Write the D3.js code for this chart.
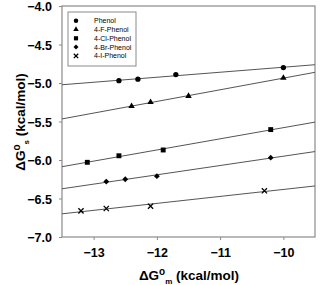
<!DOCTYPE html>
<html>
<head>
<meta charset="utf-8">
<script src="https://cdn.jsdelivr.net/npm/d3@7"></script>
<style>
body { margin: 0; background: #fff; }
text { font-family: "Liberation Sans", Arial, sans-serif; }
</style>
</head>
<body>
<svg id="chart" width="321" height="285"></svg>
<script>
// data
var seriesNames = ["Phenol", "4-F-Phenol", "4-Cl-Phenol", "4-Br-Phenol", "4-I-Phenol"];
var phenolX = [-12.6, -12.3, -11.7, -10.0];
var phenolY = [-4.97, -4.95, -4.89, -4.80];
var fluoroX = [-12.4, -12.1, -11.5, -10.0];
var fluoroY = [-5.30, -5.25, -5.17, -4.935];
var chloroX = [-13.1, -12.6, -11.9, -10.2];
var chloroY = [-6.03, -5.945, -5.87, -5.605];
var bromoX = [-12.8, -12.5, -12.0, -10.2];
var bromoY = [-6.28, -6.25, -6.21, -5.97];
var iodoX = [-13.2, -12.8, -12.1, -10.3];
var iodoY = [-6.66, -6.63, -6.60, -6.40];
var xTicks = [-13, -12, -11, -10];
var yTicks = [-4.0, -4.5, -5.0, -5.5, -6.0, -6.5, -7.0];

var allX = [phenolX, fluoroX, chloroX, bromoX, iodoX];
var allY = [phenolY, fluoroY, chloroY, bromoY, iodoY];
var markers = ["circle", "triangle", "square", "diamond", "cross"];

var svg = d3.select("#chart"),
	margin = {top: 6, right: 6, bottom: 48, left: 62},
	width = +svg.attr("width") - margin.left - margin.right,
	height = +svg.attr("height") - margin.top - margin.bottom;

var x = d3.scaleLinear().domain([-13.5, -9.5]).range([0, width]),
	y = d3.scaleLinear().domain([-7, -4]).range([height, 0]);

var g = svg.append("g")
	.attr("transform", "translate(" + margin.left + "," + margin.top + ")");

var frameColor = "#8a8a8a";

// frame
g.append("rect")
	.attr("x", 0).attr("y", 0)
	.attr("width", width).attr("height", height)
	.attr("fill", "none")
	.attr("stroke", frameColor)
	.attr("stroke-width", 1.2);

var xAxis = g.append("g")
	.attr("transform", "translate(0," + height + ")")
	.call(d3.axisBottom(x).tickValues(xTicks).tickSize(3).tickPadding(8).tickFormat(d3.format("d")));

var yAxis = g.append("g")
	.call(d3.axisLeft(y).tickValues(yTicks).tickSize(3).tickPadding(7).tickFormat(d3.format(".1f")));

[xAxis, yAxis].forEach(function(ax) {
	ax.select(".domain").remove();
	ax.selectAll(".tick line").attr("stroke", frameColor);
	ax.selectAll(".tick text")
		.attr("fill", "#000")
		.style("font-size", "12.5px")
		.style("font-weight", "bold")
		.style("font-family", "'Liberation Sans', Arial, sans-serif");
});
yAxis.selectAll(".tick text").attr("dy", "0.36em");

// least squares line per series, across the whole x range
function fit(xs, ys) {
	var mx = d3.mean(xs), my = d3.mean(ys);
	var sxy = 0, sxx = 0;
	for (var i = 0; i < xs.length; i++) {
		sxy += (xs[i] - mx) * (ys[i] - my);
		sxx += (xs[i] - mx) * (xs[i] - mx);
	}
	var b = sxy / sxx;
	return function(v) { return my + b * (v - mx); };
}

var line = d3.line()
	.x(function(d) { return x(d[0]); })
	.y(function(d) { return y(d[1]); });

for (var s = 0; s < allX.length; s++) {
	var f = fit(allX[s], allY[s]);
	var ends = x.domain().map(function(v) { return [v, f(v)]; });
	g.append("path")
		.attr("d", line(ends))
		.attr("fill", "none")
		.attr("stroke", "#555")
		.attr("stroke-width", 1);
}

function drawMarker(sel, type, cx, cy, scale) {
	scale = scale || 1;
	if (type == "cross") {
		var r = 2.6 * scale;
		sel.append("path")
			.attr("d", "M" + (cx - r) + "," + (cy - r) + "L" + (cx + r) + "," + (cy + r) +
				"M" + (cx - r) + "," + (cy + r) + "L" + (cx + r) + "," + (cy - r))
			.attr("stroke", "#000")
			.attr("stroke-width", 1.3)
			.attr("fill", "none");
		return;
	}
	var sym, size, rot = 0;
	if (type == "circle") { sym = d3.symbolCircle; size = 22; }
	if (type == "triangle") { sym = d3.symbolTriangle; size = 18; }
	if (type == "square") { sym = d3.symbolSquare; size = 24; }
	if (type == "diamond") { sym = d3.symbolSquare; size = 17; rot = 45; }
	sel.append("path")
		.attr("d", d3.symbol().type(sym).size(size * scale * scale)())
		.attr("transform", "translate(" + cx + "," + cy + ") rotate(" + rot + ")")
		.attr("fill", "#000");
}

for (var s = 0; s < allX.length; s++) {
	for (var i = 0; i < allX[s].length; i++) {
		drawMarker(g, markers[s], x(allX[s][i]), y(allY[s][i]));
	}
}

// legend
var legend = g.append("g").attr("transform", "translate(6,6)");
legend.append("rect")
	.attr("width", 68).attr("height", 54)
	.attr("fill", "#fff")
	.attr("stroke", frameColor)
	.attr("stroke-width", 1);

seriesNames.forEach(function(name, i) {
	var ly = 8.7 + i * 8.8;
	drawMarker(legend, markers[i], 8, ly, 0.85);
	legend.append("text")
		.attr("x", 26)
		.attr("y", ly)
		.attr("dy", "0.35em")
		.style("font-size", "7px")
		.text(name);
});

// axis titles
var yTitle = svg.append("text")
	.attr("transform", "translate(25," + (margin.top + 116) + ") rotate(-90)")
	.attr("text-anchor", "middle")
	.style("font-size", "13.5px")
	.style("font-weight", "bold");
yTitle.append("tspan").text("\u0394G");
yTitle.append("tspan").attr("dy", "-5").style("font-size", "10px").text("o");
yTitle.append("tspan").attr("dy", "9").style("font-size", "8px").text("s");
yTitle.append("tspan").attr("dy", "-4").text(" (kcal/mol)");

var xTitle = svg.append("text")
	.attr("x", 189)
	.attr("y", 280)
	.attr("text-anchor", "middle")
	.style("font-size", "13.5px")
	.style("font-weight", "bold");
xTitle.append("tspan").text("\u0394G");
xTitle.append("tspan").attr("dy", "-5").style("font-size", "10px").text("o");
xTitle.append("tspan").attr("dy", "9").style("font-size", "8px").text("m");
xTitle.append("tspan").attr("dy", "-4").text(" (kcal/mol)");
</script>
</body>
</html>
